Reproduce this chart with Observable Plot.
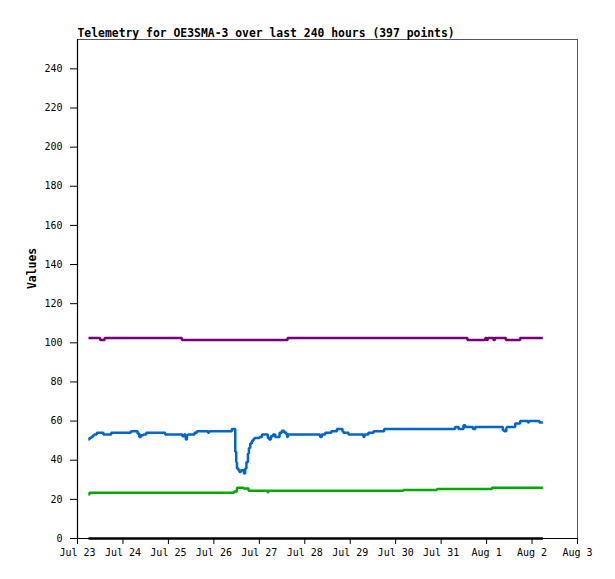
<!DOCTYPE html>
<html>
<head>
<meta charset="utf-8">
<script src="https://cdn.jsdelivr.net/npm/d3@7"></script>
<script src="https://cdn.jsdelivr.net/npm/@observablehq/plot@0.6"></script>
<style>
  html, body { margin: 0; padding: 0; background: white; }
</style>
</head>
<body>
<div id="chart"></div>
<script>
const titleText = "Telemetry for OE3SMA-3 over last 240 hours (397 points)";
const yLabel = "Values";
const startDay = "2024-07-23T00:00:00Z";
const endDay = "2024-08-03T00:00:00Z";
const yTicks = [0, 20, 40, 60, 80, 100, 120, 140, 160, 180, 200, 220, 240];

// hours since Jul 23 00:00 and values (breakpoints of the stepped series)
const ch1Hours = [5.8, 12.0, 14.3, 55.1, 110.9, 205.9, 215.3, 216.0, 216.6, 219.6, 220.4, 226.2, 233.7, 245.7];
const ch1Values = [102.5, 101.5, 102.5, 101.5, 102.5, 101.5, 102.5, 101.5, 102.5, 101.5, 102.5, 101.5, 102.5, 102.5];

const ch2Hours = [5.8, 6.3, 7.2, 8.1, 8.8, 10.2, 13.7, 17.8, 28.2, 31.7, 32.6, 33.5, 34.8, 36.3, 46.3,
  55.4, 56.3, 57.2, 57.8, 58.3, 61.8, 63.0, 68.9, 69.4, 81.5, 83.3, 83.8, 84.2, 85.0, 85.5, 86.3, 87.9,
  88.5, 89.2, 90.0, 90.5, 91.2, 92.1, 92.9, 93.5, 96.1, 97.4, 100.5, 101.2, 102.1, 103.2, 104.4, 106.7,
  107.9, 109.1, 110.2, 110.7, 111.1, 128.1, 129.0, 130.8, 134.0, 137.0, 139.9, 140.4, 143.1, 151.0, 151.5,
  153.6, 156.3, 161.9, 199.4, 201.2, 203.8, 204.7, 208.8, 210.0, 224.6, 225.3, 226.4, 226.7, 231.1, 233.7,
  237.8, 238.3, 243.9, 245.7];
const ch2Values = [50.6, 51.3, 51.9, 52.6, 53.2, 54, 53.2, 54, 54.8, 53.7, 51.9, 52.8, 53.2, 54, 53.2,
  52.3, 53.2, 50.6, 52.8, 53.2, 54, 54.8, 54, 54.8, 56, 44.3, 39.1, 35.8, 34.9, 34, 34.9, 33.2,
  35.8, 39.1, 43.4, 46.3, 48.6, 49.9, 50.8, 51.4, 51.9, 53.2, 51.4, 50.6, 52.3, 53.2, 51.9, 54,
  55, 54.2, 53.3, 51.9, 53.2, 51.9, 53.2, 54, 54.8, 56, 54.8, 54, 53.2, 51.9, 53.2,
  54, 54.8, 56, 57, 56, 57.9, 57, 56, 57, 55.3, 54.8, 56.5, 57, 58.8, 60.1,
  59.3, 60.1, 59.3, 59.3];

const ch3Hours = [5.8, 6.3, 82.7, 84.2, 87.7, 90.3, 100.3, 100.8, 172.1, 189.8, 218.8, 245.7];
const ch3Values = [22.5, 23.4, 24.0, 25.9, 25.5, 24.4, 23.6, 24.4, 24.8, 25.3, 25.9, 25.9];

const ch4Hours = [5.8, 245.7];
const ch4Values = [0, 0];

const seriesNames = ["ch1", "ch2", "ch3", "ch4"];
const seriesColors = ["#770077", "#0066cc", "#00aa00", "#000000"];

const t0 = new Date(startDay).getTime();
const toDate = h => new Date(t0 + h * 3600 * 1000);
function build(name, hours, values) {
  return hours.map((h, i) => ({series: name, date: toDate(h), value: values[i]}));
}
const data = [
  ...build("ch1", ch1Hours, ch1Values),
  ...build("ch2", ch2Hours, ch2Values),
  ...build("ch3", ch3Hours, ch3Values),
  ...build("ch4", ch4Hours, ch4Values)
];
const dayTicks = d3.utcDay.range(new Date(startDay), d3.utcDay.offset(new Date(endDay), 1));

const mono = "'DejaVu Sans Mono', 'Liberation Mono', monospace";

const chart = Plot.plot({
  width: 615,
  height: 579,
  marginLeft: 77,
  marginRight: 38,
  marginTop: 39,
  marginBottom: 41,
  style: {fontFamily: mono, fontSize: "10px", background: "white", color: "black"},
  x: {type: "utc", domain: [new Date(startDay), new Date(endDay)]},
  y: {domain: [0, 255]},
  color: {domain: seriesNames, range: seriesColors},
  marks: [
    Plot.frame({stroke: "#555", strokeWidth: 1}),
    Plot.ruleX([new Date(startDay)], {stroke: "black", strokeWidth: 1.2}),
    Plot.ruleY([0], {stroke: "black", strokeWidth: 1.2}),
    Plot.axisY({ticks: yTicks, tickSize: 7, tickPadding: 8, label: null, stroke: "black", fontSize: 10}),
    Plot.axisX({ticks: dayTicks, tickFormat: d3.utcFormat("%b %-d"), tickSize: 6, tickPadding: 4, label: null, stroke: "black", fontSize: 10}),
    Plot.line(data, {x: "date", y: "value", z: "series", stroke: "series", curve: "step-after", strokeWidth: 2.5, strokeLinejoin: "miter", strokeLinecap: "butt"}),
    Plot.text([titleText], {frameAnchor: "top-left", dy: -11, textAnchor: "start", fontWeight: "bold", fontSize: 11.4, fontFamily: mono, fill: "black"}),
    Plot.text([yLabel], {frameAnchor: "left", dx: -45, rotate: -90, fontWeight: "bold", fontSize: 11.4, fontFamily: mono, fill: "black"})
  ]
});
document.getElementById("chart").appendChild(chart);
</script>
</body>
</html>
